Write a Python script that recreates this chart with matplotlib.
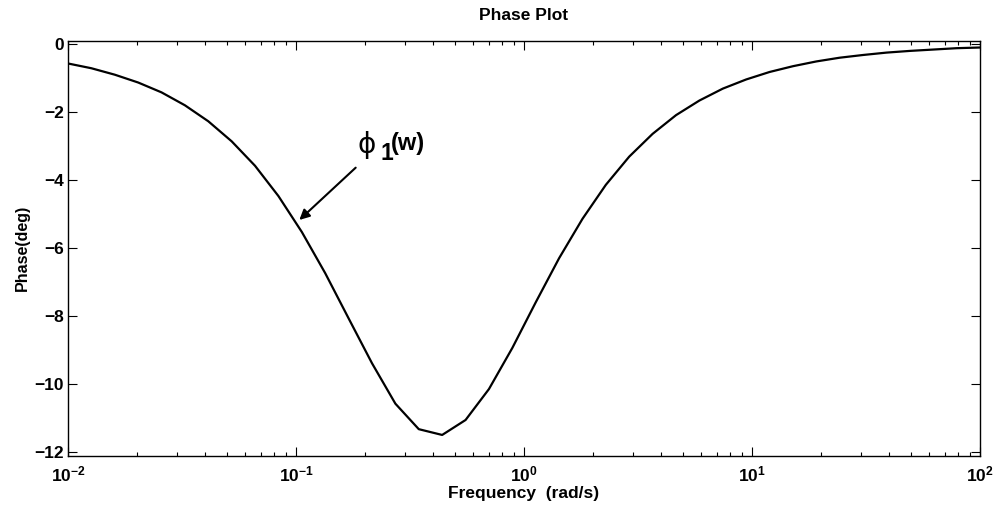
import numpy as np
import matplotlib
matplotlib.use("Agg")
import matplotlib.pyplot as plt
from matplotlib.ticker import LogLocator, FixedLocator, FixedFormatter, NullFormatter

plt.rcParams['font.family'] = ['Liberation Sans', 'DejaVu Sans']
plt.rcParams['font.weight'] = 'bold'
plt.rcParams['mathtext.fontset'] = 'custom'
plt.rcParams['mathtext.rm'] = 'Liberation Sans:bold'
plt.rcParams['mathtext.it'] = 'Liberation Sans:bold'
plt.rcParams['mathtext.bf'] = 'Liberation Sans:bold'

# frequency samples (rad/s) and phase (deg)
freq = [0.01, 0.01266, 0.01604, 0.02031, 0.02571, 0.03256, 0.04123, 0.05221,
        0.06611, 0.08371, 0.1061, 0.1343, 0.1701, 0.2154, 0.2728, 0.3455,
        0.4375, 0.5541, 0.7017, 0.8886, 1.125, 1.425, 1.805, 2.285, 2.894,
        3.665, 4.642, 5.878, 7.444, 9.427, 11.94, 15.12, 19.14, 24.24, 30.70,
        38.88, 49.24, 62.36, 78.97, 100.0]
phase = [-0.57, -0.71, -0.90, -1.13, -1.42, -1.80, -2.27, -2.86, -3.58, -4.47,
         -5.53, -6.74, -8.07, -9.39, -10.58, -11.33, -11.50, -11.06, -10.15, -8.94,
         -7.60, -6.30, -5.14, -4.14, -3.31, -2.64, -2.09, -1.66, -1.31, -1.04,
         -0.82, -0.65, -0.51, -0.40, -0.32, -0.25, -0.20, -0.16, -0.12, -0.10]

xticks = [0.01, 0.1, 1, 10, 100]
xticklabels = [r'$\mathbf{10^{-2}}$', r'$\mathbf{10^{-1}}$', r'$\mathbf{10^{0}}$',
               r'$\mathbf{10^{1}}$', r'$\mathbf{10^{2}}$']
yticks = [-12, -10, -8, -6, -4, -2, 0]

fig = plt.figure(figsize=(9.97, 5.14), dpi=100)
ax = fig.add_axes([0.0682, 0.1128, 0.9148, 0.808])

ax.semilogx(freq, phase, color='black', lw=1.6)

ax.set_xlim(0.01, 100)
ax.set_ylim(-12.12, 0.1)
ax.xaxis.set_major_locator(FixedLocator(xticks))
ax.xaxis.set_major_formatter(FixedFormatter(xticklabels))
ax.xaxis.set_minor_locator(LogLocator(base=10, subs=np.arange(2, 10)))
ax.xaxis.set_minor_formatter(NullFormatter())
ax.set_yticks(yticks)

ax.tick_params(which='both', direction='in', top=True, right=True, labelsize=12.5, width=0.8)
ax.tick_params(axis='y', pad=3)
ax.tick_params(axis='x', pad=6)
ax.tick_params(which='major', length=6.5)
ax.tick_params(which='minor', length=3.2)
for s in ax.spines.values():
    s.set_linewidth(1.0)

ax.set_title('Phase Plot', fontsize=12.5, fontweight='bold', pad=15)
ax.set_xlabel('Frequency  (rad/s)', fontsize=12.5, fontweight='bold', labelpad=1)
ax.set_ylabel('Phase(deg)', fontsize=11.5, fontweight='bold', labelpad=3)

# annotation arrow and label
ax.annotate('', xy=(0.1013, -5.23), xytext=(0.1865, -3.58),
            arrowprops=dict(arrowstyle='-|>', color='black', lw=1.5, mutation_scale=15))
fig.text(357 / 997, 1 - 153 / 514, '\u03d5', fontsize=20, family='DejaVu Sans',
         fontweight='normal')
fig.text(380 / 997, 1 - 160 / 514, '1', fontsize=16.5, fontweight='bold')
fig.text(391 / 997, 1 - 150 / 514, '(w)', fontsize=17, fontweight='bold')

fig.savefig('out.png', dpi=100)
